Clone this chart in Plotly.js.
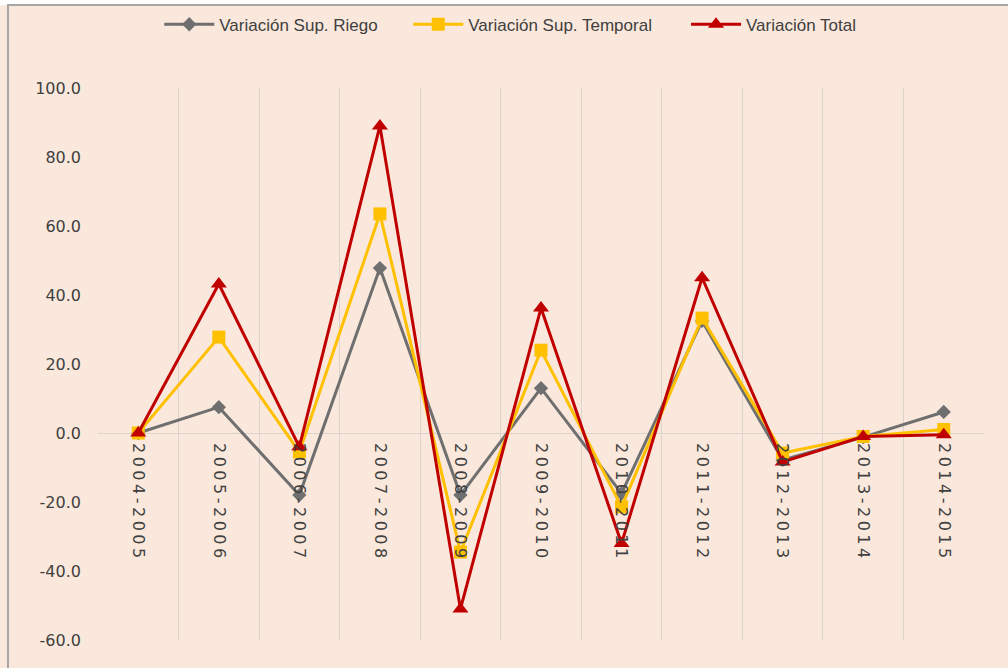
<!DOCTYPE html>
<html>
<head>
<meta charset="utf-8">
<script src="https://cdn.plot.ly/plotly-3.0.1.min.js"></script>
<style>
html,body{margin:0;padding:0;background:#fbe8dc;}
#chart{width:1008px;height:668px;}
.xtick text{letter-spacing:3.5px;}
</style>
</head>
<body>
<div id="chart"></div>
<script>
const categories = ["2004-2005","2005-2006","2006-2007","2007-2008","2008-2009","2009-2010","2010-2011","2011-2012","2012-2013","2013-2014","2014-2015"];
const riego    = [0.0, 7.5, -18.0, 47.8, -18.0, 13.0, -17.5, 32.5, -7.8, -1.2, 6.1];
const temporal = [0.0, 27.8, -5.5, 63.5, -34.5, 24.0, -21.4, 33.3, -5.8, -1.0, 1.0];
const total    = [0.0, 43.2, -4.0, 89.0, -51.0, 36.2, -32.0, 45.0, -8.4, -1.0, -0.5];
const yTicks   = [-60, -40, -20, 0, 20, 40, 60, 80, 100];
const yTickText = ["-60.0", "-40.0", "-20.0", "0.0", "20.0", "40.0", "60.0", "80.0", "100.0"];

const labelFont = "'Liberation Sans Narrow', 'Liberation Sans', Arial, sans-serif";
const tickFont = "'DejaVu Sans', Verdana, sans-serif";

const traces = [
  {x: categories, y: riego, name: "Variación Sup. Riego", type: "scatter", mode: "lines+markers",
   line: {color: "#6f6f6f", width: 3}, marker: {symbol: "diamond", size: 11, color: "#6f6f6f"}},
  {x: categories, y: temporal, name: "Variación Sup. Temporal", type: "scatter", mode: "lines+markers",
   line: {color: "#ffc000", width: 3}, marker: {symbol: "square", size: 13, color: "#ffc000"}},
  {x: categories, y: total, name: "Variación Total", type: "scatter", mode: "lines+markers", legend: "legend2",
   line: {color: "#c00000", width: 3}, marker: {symbol: "triangle-up", size: 14, color: "#c00000"}}
];

const legendFont = {family: labelFont, size: 17, color: "#404040"};

const layout = {
  width: 1008, height: 668,
  paper_bgcolor: "#fbe8dc", plot_bgcolor: "#fbe8dc",
  margin: {l: 98, r: 24, t: 88, b: 28},
  showlegend: true,
  legend: {orientation: "h", xref: "container", yref: "container", x: 0.158, xanchor: "left",
           y: 0.99, yanchor: "top", font: legendFont, bgcolor: "rgba(0,0,0,0)",
           itemwidth: 50, entrywidth: 184, entrywidthmode: "pixels", traceorder: "normal"},
  legend2: {orientation: "h", xref: "container", yref: "container", x: 0.6806, xanchor: "left",
           y: 0.99, yanchor: "top", font: legendFont, bgcolor: "rgba(0,0,0,0)", itemwidth: 50},
  xaxis: {type: "category", range: [-0.5, 10.5], tickangle: 90, anchor: "free", position: 0.375,
          tickson: "boundaries", showgrid: true, gridcolor: "#dcd3cc", gridwidth: 1,
          showline: false, ticks: "", zeroline: false, ticklabelstandoff: 9,
          tickfont: {family: tickFont, size: 16, color: "#404040"}},
  yaxis: {range: [-60, 100], tickvals: yTicks, ticktext: yTickText, showgrid: false,
          zeroline: true, zerolinecolor: "#dcd3cc", zerolinewidth: 1, showline: false, ticks: "",
          ticklabelstandoff: 16,
          tickfont: {family: tickFont, size: 16, color: "#404040"}},
  shapes: [
    {type: "rect", xref: "paper", yref: "paper", x0: -0.2, x1: 1.2, y0: 1.1504, y1: 1.3,
     fillcolor: "#ffffff", line: {width: 0}, layer: "below"},
    {type: "rect", xref: "paper", yref: "paper", x0: -0.1016, x1: 1.2, y0: -0.2, y1: 1.1504,
     fillcolor: "rgba(0,0,0,0)", line: {color: "#a6a6a6", width: 2}, layer: "below"}
  ]
};

Plotly.newPlot("chart", traces, layout, {displayModeBar: false, staticPlot: true});
</script>
</body>
</html>
